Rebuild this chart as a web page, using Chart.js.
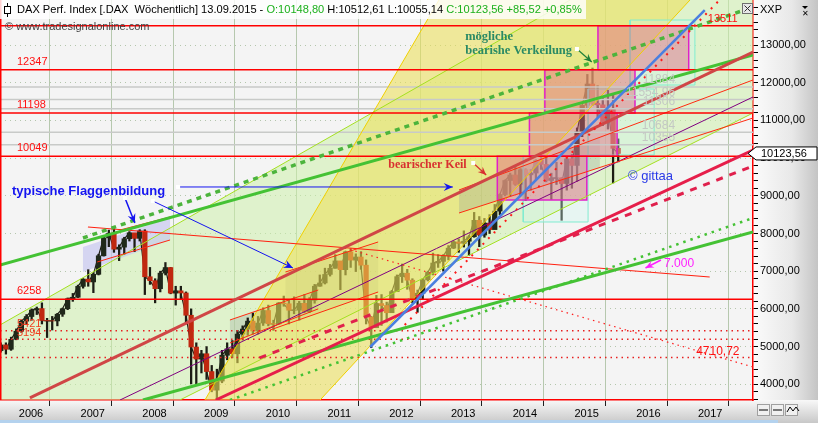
<!DOCTYPE html>
<html><head><meta charset="utf-8">
<script src="https://cdn.jsdelivr.net/npm/chart.js"></script>
<style>html,body{margin:0;padding:0;background:#fff;overflow:hidden}</style>
</head><body>
<canvas id="c" width="818" height="423"></canvas>
<script>
// ---------- data ----------
const priceMonths = [
'2005-09','2005-10','2005-11','2005-12',
'2006-01','2006-02','2006-03','2006-04','2006-05','2006-06','2006-07','2006-08','2006-09','2006-10','2006-11','2006-12',
'2007-01','2007-02','2007-03','2007-04','2007-05','2007-06','2007-07','2007-08','2007-09','2007-10','2007-11','2007-12',
'2008-01','2008-02','2008-03','2008-04','2008-05','2008-06','2008-07','2008-08','2008-09','2008-10','2008-11','2008-12',
'2009-01','2009-02','2009-03','2009-04','2009-05','2009-06','2009-07','2009-08','2009-09','2009-10','2009-11','2009-12',
'2010-01','2010-02','2010-03','2010-04','2010-05','2010-06','2010-07','2010-08','2010-09','2010-10','2010-11','2010-12',
'2011-01','2011-02','2011-03','2011-04','2011-05','2011-06','2011-07','2011-08','2011-09','2011-10','2011-11','2011-12',
'2012-01','2012-02','2012-03','2012-04','2012-05','2012-06','2012-07','2012-08','2012-09','2012-10','2012-11','2012-12',
'2013-01','2013-02','2013-03','2013-04','2013-05','2013-06','2013-07','2013-08','2013-09','2013-10','2013-11','2013-12',
'2014-01','2014-02','2014-03','2014-04','2014-05','2014-06','2014-07','2014-08','2014-09','2014-10','2014-11','2014-12',
'2015-01','2015-02','2015-03','2015-04','2015-05','2015-06','2015-07','2015-08','2015-09'];
const priceOpen = [4890,5044,4929,5193,
5408,5674,5797,5970,6009,5692,5683,5681,5859,6004,6269,6309,
6597,6789,6715,6917,7409,7883,8007,7584,7638,7861,8019,7871,
8067,6852,6748,6535,6949,7097,6418,6479,6422,5831,4988,4669,
4810,4338,3844,4085,4770,4941,4809,5332,5465,5675,5415,5625,
5957,5608,5598,6154,6136,5965,5966,6148,5925,6229,6601,6688,
6914,7077,7273,7041,7514,7294,7376,7159,5785,5502,6141,6089,
5898,6458,6856,6947,6761,6264,6416,6772,6970,7216,7260,7406,
7612,7776,7741,7795,7914,8349,7959,8276,8103,8594,9033,9406,
9552,9306,9692,9556,9603,9943,9833,9407,9470,9474,9326,9980,
9806,10694,11402,11966,11454,11413,10945,11309,10259];
const priceHigh = [5100,5100,5250,5470,
5700,5850,6000,6050,6160,5750,5800,5880,6020,6290,6410,6630,
6800,7040,6950,7450,7900,8090,8150,7700,7900,8050,8000,8100,
8100,7100,6800,7000,7230,7100,6600,6600,6450,6000,5100,4900,
5000,4500,4400,4900,5100,5160,5430,5550,5760,5890,5800,6030,
6100,5700,6170,6340,6230,6320,6200,6380,6300,6650,6900,7080,
7180,7440,7230,7530,7600,7460,7520,7300,5800,6360,6380,6180,
6490,6900,7190,7050,6800,6500,6800,7000,7480,7440,7440,7680,
7800,7860,8070,7950,8560,8450,8400,8500,8770,9050,9420,9600,
9800,9720,9720,9700,9960,10050,10030,9600,9890,9480,10000,10090,
10800,11400,12220,12390,11920,11630,11800,11670,10510];
const priceLow = [4850,4800,4900,5180,
5380,5600,5700,5850,5600,5240,5440,5550,5800,5980,6200,6300,
6550,6600,6430,6900,7400,7650,7500,7280,7450,7800,7520,7800,
6380,6650,6160,6450,6900,6400,6100,6250,5600,4010,4000,4300,
4130,3800,3590,4040,4650,4700,4570,5170,5300,5330,5330,5560,
5550,5430,5600,6070,5600,5870,5700,5900,5900,6150,6600,6660,
6870,7080,6510,6900,7100,6990,7050,5600,4970,5500,5560,5650,
5900,6500,6700,6520,6160,5910,6250,6740,6900,7100,7000,7300,
7600,7500,7640,7420,7900,7650,7900,8000,8130,8500,9000,9000,
9280,9000,8870,9150,9400,9700,9370,8900,9300,8350,9150,9200,
9380,10570,11300,11400,11080,10860,10770,9340,9900];
const priceClose = [5044,4929,5193,5408,
5674,5797,5970,6009,5692,5683,5681,5859,6004,6269,6309,6597,
6789,6715,6917,7409,7883,8007,7584,7638,7861,8019,7871,8067,
6852,6748,6535,6949,7097,6418,6479,6422,5831,4988,4669,4810,
4338,3844,4085,4770,4941,4809,5332,5465,5675,5415,5625,5957,
5608,5598,6154,6136,5965,5966,6148,5925,6229,6601,6688,6914,
7077,7273,7041,7514,7294,7376,7159,5785,5502,6141,6089,5898,
6458,6856,6947,6761,6264,6416,6772,6970,7216,7260,7406,7612,
7776,7741,7795,7914,8349,7959,8276,8103,8594,9033,9406,9552,
9306,9692,9556,9603,9943,9833,9407,9470,9474,9326,9980,9806,
10694,11402,11966,11454,11413,10945,11309,10259,10124];

const yearTicks = [2006,2007,2008,2009,2010,2011,2012,2013,2014,2015,2016,2017];
const yLabelTicks = [4000,5000,6000,7000,8000,9000,10000,11000,12000,13000];
const xRange = [2005.696, 2017.891];
const yRange = [3583, 14194];

const redLevels = [13511, 12347, 11198, 10049, 6258];
const redLevelLabels = ['13511','12347','11198','10049','6258'];
const redDottedLevels = [5421, 5194, 4710.72];
const redDottedLabels = ['5421','5194','4710,72'];
const greyLevels = [11884, 11554.96, 11306, 10684, 10355];
const greyLabels = ['11884','11554,96','11306','10684','10355'];

// trend lines [year, value]
const greenUpper = [[2005.696,7164],[2017.891,12735]];
const greenUpperDotted = [[2007.04,7881],[2017.891,14008]];
const greenLower = [[2008.01,3583],[2017.891,8040]];
const greenLowerDotted = [[2009.42,3583],[2017.891,8411]];
const redUpper = [[2006.18,3637],[2017.891,12814]];
const crimsonLine = [[2009.19,3583],[2017.891,10215]];
const crimsonDashed = [[2009.9,4700],[2017.891,9790]];
const redDottedSteep = [[2012.25,5573],[2017.35,14194]];
const redDottedDown = [[2011.28,7615],[2017.891,4459]];
const redThinDown = [[2007.12,8172],[2017.19,6846]];
const blueTrend = [[2011.69,4989],[2017.11,13928]];
const limeUpper = [[2005.696,5573],[2014.93,14194]];
const limeLower = [[2008.61,3583],[2017.891,11196]];
const purpleTrend = [[2007.64,3583],[2017.891,11621]];
const flag1Upper = [[2007.64,8093],[2008.45,8438]];
const flag1Lower = [[2007.27,7244],[2008.45,7828]];
const flag2Upper = [[2009.42,5706],[2010.85,6501]];
const flag2Lower = [[2009.42,5095],[2010.85,6000]];
const flag3Upper = [[2010.32,6979],[2011.82,7775]];
const flag3Lower = [[2010.07,5440],[2011.82,6448]];
const wedgeUpper = [[2013.13,9154],[2017.891,12072]];
const wedgeLower = [[2013.13,8544],[2017.891,11064]];
const yellowLeft = [[2009.015,3583],[2012.805,14194]];
const yellowRight = [[2010.88,3583],[2016.87,14194]];

// shaded areas
const greenBand = [[2005.696,5573],[2014.93,14194],[2017.891,14194],[2017.891,11196],[2008.61,3583],[2005.696,3583]];
const yellowBand = [[2009.015,3583],[2012.805,14194],[2016.87,14194],[2010.88,3583]];
const flag1Shade = [[2007.04,7642],[2008.45,8411],[2008.45,7828],[2007.04,6979]];
const flag2Shade = [[2009.42,5706],[2010.85,6501],[2010.85,6000],[2009.42,5095]];
const flag3Shade = [[2010.32,6979],[2011.82,7775],[2011.82,6448],[2010.32,5580]];
const wedgeShade = [[2013.13,9154],[2015.41,10560],[2015.41,9751],[2013.13,8544]];
const salmonBoxes = [[2013.75,2015.20,8889,10049],[2014.27,2015.69,10049,11198],[2014.52,2015.98,11198,12347],[2015.38,2016.85,12347,13511]];
const cyanBoxes = [[2014.17,2015.22,8305,10049],[2015.22,2016.29,10082,11833],[2015.90,2016.95,11939,13663]];

const lastClose = 10123.56;
const headerParts = [['DAX Perf. Index [.DAX  Wöchentlich] 13.09.2015 - ', '#000'], ['O:10148,80', '#1bb01b'],
  [' H:10512,61 L:10055,14 ', '#000'], ['C:10123,56 +85,52 +0,85%', '#1bb01b']];

// ---------- build ----------
const monthX = priceMonths.map(s => { const [y,m] = s.split('-').map(Number); return y + (m - 0.5) / 12; });
const P = pts => pts.map(p => ({x:p[0], y:p[1]}));
function seg(pts, color, width, dash, order) {
  return {type:'line', data:P(pts), borderColor:color, borderWidth:width, borderDash:dash||[], pointRadius:0, fill:false, tension:0, order:order, borderCapStyle:'butt'};
}
function poly(pts, fillColor, stroke, sw, order) {
  return {type:'line', data:P([...pts, pts[0]]), backgroundColor:fillColor, borderColor:stroke||'rgba(0,0,0,0)', borderWidth:sw||0, fill:'shape', pointRadius:0, tension:0, order:order};
}
function rect(b){ return [[b[0],b[2]],[b[1],b[2]],[b[1],b[3]],[b[0],b[3]]]; }

const ds = [];
ds.push(poly(greenBand, 'rgba(205,240,172,0.55)', null, 0, 100));
ds.push(poly(flag1Shade, 'rgba(196,196,240,0.65)', null, 0, 95));
ds.push(poly(flag2Shade, 'rgba(160,175,160,0.35)', null, 0, 95));
ds.push(poly(flag3Shade, 'rgba(160,175,160,0.30)', null, 0, 95));
ds.push({type:'line', data: monthX.map((x,i)=>({x:x, y:priceClose[i]})), borderColor:'#1c1c14', borderWidth:1.2, pointRadius:0, fill:false, tension:0, order:91});
ds.push({type:'bar', data: monthX.map((x,i)=>({x:x, y:[priceLow[i], priceHigh[i]]})), backgroundColor:'#1c1c14', barThickness:1.6, order:90, grouped:false});
ds.push({type:'bar', data: monthX.map((x,i)=>({x:x, y:[priceOpen[i], priceClose[i]]})),
  backgroundColor: c => priceClose[c.dataIndex] < priceOpen[c.dataIndex] ? '#c02810' : '#20281a',
  borderColor:'#101010', borderWidth:0, barThickness:4.6, order:89, grouped:false});
ds.push(poly(yellowBand, 'rgba(236,224,90,0.58)', null, 0, 80));
ds.push(poly(wedgeShade, 'rgba(150,160,150,0.30)', null, 0, 75));
cyanBoxes.forEach(b => ds.push(poly(rect(b), 'rgba(205,245,238,0.35)', '#80ecd0', 1, 72)));
salmonBoxes.forEach(b => ds.push(poly(rect(b), 'rgba(226,100,128,0.45)', '#e020c8', 1.5, 70)));
greyLevels.forEach(v => ds.push(seg([[xRange[0],v],[xRange[1],v]], '#c8cac8', 1.5, [], 60)));
redDottedLevels.forEach(v => ds.push(seg([[xRange[0],v],[xRange[1],v]], '#e82020', 1.5, [1.5,4], 55)));
ds.push(seg(yellowLeft, '#f0d000', 1, [], 50));
ds.push(seg(yellowRight, '#f0d000', 1, [], 50));
ds.push(seg(limeUpper, '#a4e020', 1, [], 48));
ds.push(seg(limeLower, '#a4e020', 1, [], 48));
ds.push(seg(purpleTrend, '#800080', 1, [], 47));
ds.push(seg(redThinDown, '#ff2010', 1.2, [], 46));
ds.push(seg(redDottedDown, '#ff2020', 1.2, [1.5,4], 46));
[flag1Upper, flag1Lower, flag2Upper, flag2Lower, flag3Upper, flag3Lower, wedgeUpper, wedgeLower].forEach(l => ds.push(seg(l, '#ff2a10', 1, [], 45)));
redLevels.forEach(v => ds.push(seg([[xRange[0],v],[xRange[1],v]], '#ff0000', 1.5, [], 40)));
ds.push(seg(greenLower, '#44c234', 3, [], 30));
ds.push(seg(greenLowerDotted, '#44c234', 2.5, [2.5,5], 30));
ds.push(seg(greenUpper, '#44c234', 3, [], 30));
ds.push(seg(greenUpperDotted, '#4cb43c', 3.5, [5,5], 30));
ds.push(seg(redUpper, '#d04646', 3, [], 28));
ds.push(seg(crimsonDashed, '#e0204c', 3, [7,7], 27));
ds.push(seg(crimsonLine, '#e61e4a', 3, [], 26));
ds.push(seg(redDottedSteep, '#ff1a1a', 2, [2,6], 25));
ds.push(seg(blueTrend, '#4a7fe0', 2.5, [], 24));

// ---------- overlay drawing ----------
const F = 'Liberation Sans, Arial, sans-serif';
function arrow(ctx, x1, y1, x2, y2, color, lw, hs) {
  ctx.save(); ctx.strokeStyle = color; ctx.fillStyle = color; ctx.lineWidth = lw;
  ctx.beginPath(); ctx.moveTo(x1, y1); ctx.lineTo(x2, y2); ctx.stroke();
  const a = Math.atan2(y2 - y1, x2 - x1);
  ctx.beginPath(); ctx.moveTo(x2, y2);
  ctx.lineTo(x2 - hs * Math.cos(a - 0.42), y2 - hs * Math.sin(a - 0.42));
  ctx.lineTo(x2 - hs * 0.6 * Math.cos(a), y2 - hs * 0.6 * Math.sin(a));
  ctx.lineTo(x2 - hs * Math.cos(a + 0.42), y2 - hs * Math.sin(a + 0.42));
  ctx.closePath(); ctx.fill(); ctx.restore();
}
function handle(ctx, x, y) { ctx.fillStyle = '#ffffff'; ctx.fillRect(x - 2, y - 2, 4, 4); }

const overlay = {
  id: 'overlay',
  beforeDraw(chart) {
    const {ctx, chartArea: a, width, height} = chart;
    ctx.save();
    ctx.fillStyle = '#ffffff'; ctx.fillRect(0, 0, width, height);
    ctx.fillStyle = '#f4f4f4'; ctx.fillRect(a.left, a.top, a.right - a.left, a.bottom - a.top);
    let g = ctx.createLinearGradient(a.right, 0, width, 0);
    g.addColorStop(0, '#fbfbfb'); g.addColorStop(0.6, '#e8e8e8'); g.addColorStop(1, '#c4c4c4');
    ctx.fillStyle = g; ctx.fillRect(a.right, 0, width - a.right, height);
    g = ctx.createLinearGradient(0, a.bottom, 0, height);
    g.addColorStop(0, '#f8f8f8'); g.addColorStop(1, '#c8c8c8');
    ctx.fillStyle = g; ctx.fillRect(0, a.bottom, width, height - a.bottom);
    ctx.fillStyle = '#b4d2ee'; ctx.fillRect(0, height - 3, a.right + 25, 3);
    ctx.restore();
  },
  afterDatasetsDraw(chart) {
    const {ctx, chartArea: a, scales: {x, y}} = chart;
    const X = v => x.getPixelForValue(v), Y = v => y.getPixelForValue(v);
    ctx.save();
    ctx.beginPath(); ctx.rect(a.left, a.top, a.right - a.left, a.bottom - a.top); ctx.clip();
    ctx.textBaseline = 'middle'; ctx.textAlign = 'left';
    ctx.font = '11px ' + F; ctx.fillStyle = '#ff1010';
    redLevels.forEach((v, i) => { if (i > 0) ctx.fillText(redLevelLabels[i], X(2005.97), Y(v) - 8); });
    ctx.fillText(redLevelLabels[0], X(2017.16), Y(redLevels[0]) - 7);
    ctx.fillStyle = '#f04020';
    ctx.fillText(redDottedLabels[0], X(2005.97), Y(redDottedLevels[0]) - 7);
    ctx.fillText(redDottedLabels[1], X(2005.97), Y(redDottedLevels[1]) - 6);
    ctx.font = '12px ' + F; ctx.fillStyle = '#ff1010';
    ctx.fillText(redDottedLabels[2], X(2016.97), Y(redDottedLevels[2]) - 6);
    ctx.font = '12px ' + F; ctx.fillStyle = '#c4c8c4'; ctx.textAlign = 'right';
    greyLevels.forEach((v, i) => ctx.fillText(greyLabels[i], X(2016.63), Y(v) - 7));
    ctx.textAlign = 'left';
    ctx.font = 'bold 13px ' + F; ctx.fillStyle = '#1414f0';
    ctx.fillText('typische Flaggenbildung', X(2005.89), Y(9127));
    arrow(ctx, X(2008.58), Y(9234), X(2013.03), Y(9234), '#1414f0', 1, 10);
    arrow(ctx, X(2008.17), Y(8862), X(2010.44), Y(7085), '#1414f0', 1, 10);
    arrow(ctx, X(2007.72), Y(8942), X(2007.88), Y(8279), '#1414f0', 1.5, 10);
    handle(ctx, X(2008.58), Y(9234)); handle(ctx, X(2008.17), Y(8862)); handle(ctx, X(2007.72), Y(8942));
    ctx.font = 'bold 12px Liberation Serif, serif'; ctx.fillStyle = '#d83030';
    ctx.fillText('bearischer Keil', X(2011.985), Y(9817));
    arrow(ctx, X(2013.36), Y(9870), X(2013.57), Y(9553), '#d83030', 1.2, 9);
    handle(ctx, X(2013.36), Y(9870));
    ctx.font = 'bold 12.5px Liberation Serif, serif'; ctx.fillStyle = '#2a8a64';
    ctx.fillText('mögliche', X(2013.23), Y(13212));
    ctx.fillText('bearishe Verkeilung', X(2013.23), Y(12841));
    arrow(ctx, X(2015.04), Y(12894), X(2015.28), Y(12549), '#20803a', 1.2, 9);
    handle(ctx, X(2015.04), Y(12894));
    ctx.font = '13px ' + F; ctx.fillStyle = '#2a3ae8';
    ctx.fillText('© gittaa', X(2015.866), Y(9525));
    ctx.font = '12px ' + F; ctx.fillStyle = '#ff20ff';
    ctx.fillText('7.000', X(2016.45), Y(7191));
    arrow(ctx, X(2016.40), Y(7297), X(2016.15), Y(7085), '#ff20ff', 1.5, 9);
    ctx.restore();
    ctx.save(); ctx.strokeStyle = '#ff0000'; ctx.lineWidth = 1.5;
    ctx.beginPath(); ctx.moveTo(a.left + 0.75, a.top); ctx.lineTo(a.left + 0.75, a.bottom); ctx.stroke();
    ctx.restore();
  },
  afterDraw(chart) {
    const {ctx, chartArea: a, scales: {y}} = chart;
    ctx.save();
    ctx.textBaseline = 'middle'; ctx.textAlign = 'left';
    ctx.fillStyle = 'rgba(255,255,255,0.82)'; ctx.fillRect(0, 0, 586, 19);
    ctx.strokeStyle = '#000'; ctx.lineWidth = 1;
    ctx.beginPath(); ctx.moveTo(7.5, 3); ctx.lineTo(7.5, 17); ctx.stroke();
    ctx.fillStyle = '#fff'; ctx.fillRect(4.5, 6.5, 6, 7); ctx.strokeRect(4.5, 6.5, 6, 7);
    let fs = 11; ctx.font = fs + 'px ' + F;
    const full = headerParts.map(p => p[0]).join('');
    fs = 11 * 565 / ctx.measureText(full).width; ctx.font = fs.toFixed(2) + 'px ' + F;
    let hx = 17;
    headerParts.forEach(p => { ctx.fillStyle = p[1]; ctx.fillText(p[0], hx, 10); hx += ctx.measureText(p[0]).width; });
    ctx.fillStyle = '#404040'; ctx.font = '11px ' + F;
    ctx.fillText('© www.tradesignalonline.com', 5, 27);
    ctx.fillStyle = '#e8e8e8'; ctx.fillRect(742.5, 3.5, 10, 10); ctx.strokeStyle = '#707070'; ctx.strokeRect(742.5, 3.5, 10, 10);
    ctx.strokeStyle = '#303030'; ctx.beginPath(); ctx.moveTo(744.5, 5.5); ctx.lineTo(750.5, 11.5); ctx.moveTo(750.5, 5.5); ctx.lineTo(744.5, 11.5); ctx.stroke();
    ctx.fillStyle = '#000'; ctx.font = '11px ' + F; ctx.fillText('XXP', 760, 10);
    ctx.beginPath(); ctx.moveTo(802, 6); ctx.lineTo(808, 6); ctx.lineTo(805, 9); ctx.closePath(); ctx.fill();
    ctx.font = '8px ' + F; ctx.fillText('✕', 802, 14);
    const py = y.getPixelForValue(lastClose);
    ctx.beginPath(); ctx.moveTo(748, py); ctx.lineTo(756, py - 6.5); ctx.lineTo(817, py - 6.5); ctx.lineTo(817, py + 6.5); ctx.lineTo(756, py + 6.5); ctx.closePath();
    ctx.fillStyle = '#ffffff'; ctx.fill(); ctx.strokeStyle = '#000'; ctx.lineWidth = 1; ctx.stroke();
    ctx.fillStyle = '#000'; ctx.font = '11px ' + F; ctx.fillText('10123,56', 761, py + 0.5);
    for (let i = 0; i < 3; i++) {
      const bx = 757 + i * 14;
      ctx.fillStyle = '#f0f0f0'; ctx.fillRect(bx, 404, 13, 12); ctx.strokeStyle = '#a0a0a0'; ctx.strokeRect(bx + 0.5, 404.5, 12, 11);
    }
    ctx.strokeStyle = '#000'; ctx.lineWidth = 1;
    ctx.beginPath(); ctx.moveTo(759, 410); ctx.lineTo(768, 410); ctx.moveTo(773, 410); ctx.lineTo(782, 410); ctx.stroke();
    ctx.beginPath(); ctx.moveTo(787, 412); ctx.lineTo(790, 407); ctx.lineTo(793, 411); ctx.lineTo(796, 407); ctx.lineTo(799, 411); ctx.stroke();
    ctx.restore();
  }
};

const yMinorTicks = [];
for (let v = 3600; v <= 14000; v += 200) yMinorTicks.push(v);

new Chart(document.getElementById('c'), {
  type: 'line',
  data: {datasets: ds},
  options: {
    responsive: false, animation: false, devicePixelRatio: 1,
    layout: {padding: 0},
    plugins: {legend: {display: false}, tooltip: {enabled: false}},
    scales: {
      x: {
        type: 'linear', min: xRange[0], max: xRange[1], offset: false,
        afterBuildTicks: s => { s.ticks = yearTicks.map(v => ({value: v})); },
        afterFit: s => { s.height = 23; s.paddingLeft = 0; s.paddingRight = 0; },
        ticks: {autoSkip: false, align: 'start', maxRotation: 0, padding: 1,
          color: '#000', font: {family: F, size: 11},
          callback: v => String(v)},
        grid: {color: '#b6c8ae', lineWidth: 1, tickColor: '#202020', tickLength: 6, drawTicks: true},
        border: {display: true, color: '#ff0000', width: 1.5}
      },
      y: {
        type: 'linear', position: 'right', min: yRange[0], max: yRange[1],
        afterBuildTicks: s => { s.ticks = yMinorTicks.map(v => ({value: v})); },
        afterFit: s => { s.width = 65; s.paddingTop = 0; s.paddingBottom = 0; },
        ticks: {autoSkip: false, padding: 2, color: '#000', font: {family: F, size: 11},
          callback: v => yLabelTicks.includes(v) ? v.toFixed(2).replace('.', ',') : ''},
        grid: {color: c => (c.tick && yLabelTicks.includes(c.tick.value)) ? '#b4c6ac' : 'rgba(0,0,0,0)', lineWidth: 1,
          tickColor: '#000', tickLength: 5},
        border: {display: true, color: '#ff0000', width: 1.5, dash: [1, 4]}
      }
    }
  },
  plugins: [overlay]
});
</script>
</body></html>
